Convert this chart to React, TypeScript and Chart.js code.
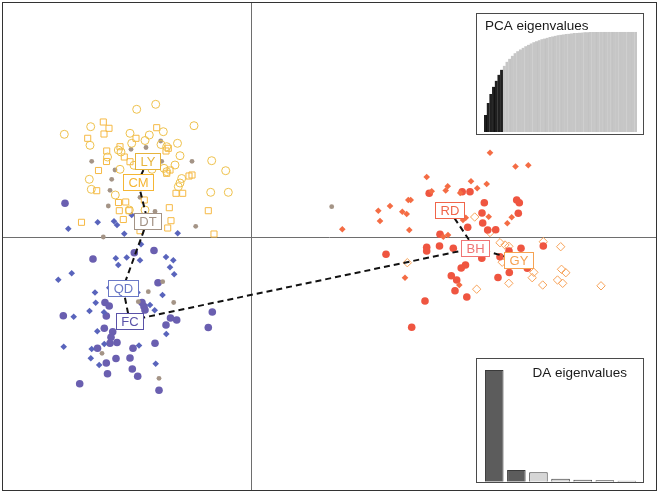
import React, { useEffect, useRef } from 'react';
import { Chart, registerables } from 'chart.js';
Chart.register(...registerables);

// ---- Data (LD1, LD2 scores) ----
const groupNames = ['LY', 'CM', 'DT', 'QD', 'FC', 'RD', 'BH', 'GY'];
const centroidX = [-10.35, -11.3, -10.35, -12.8, -12.15, 19.8, 22.35, 26.75];
const centroidY = [7.6, 5.5, 1.65, -5.1, -8.35, 2.7, -1.1, -2.3];
// minimum spanning tree between group centroids (index pairs)
const mstEdges: [number, number][] = [[0, 1], [1, 2], [2, 3], [3, 4], [4, 6], [6, 5], [6, 7]];

const LY: [number, number][] = [[-11.43,12.77],[-9.53,13.27],[-18.67,10.27],[-16.03,11.03],[-5.70,11.13],[-16.10,9.17],[-12.10,10.37],[-10.17,10.20],[-8.77,10.53],[-10.60,9.65],[-11.93,9.37],[-9.00,9.25],[-13.27,8.70],[-13.00,8.50],[-14.35,8.00],[-8.43,9.03],[-7.35,9.37],[-7.10,8.13],[-3.93,7.63],[-2.53,6.63],[-13.10,6.77],[-11.70,7.17],[-9.90,6.77],[-8.70,6.87],[-7.60,7.20],[-16.17,5.77],[-6.93,5.85],[-7.10,5.40],[-7.27,5.03],[-15.97,4.77],[-13.57,4.20],[-4.03,4.47],[-2.27,4.47],[-12.17,2.70],[-10.60,2.70],[-8.43,6.53]];
const CM: [number, number][] = [[-14.77,11.50],[-14.20,10.87],[-14.70,10.30],[-16.33,9.87],[-9.43,10.93],[-11.50,9.87],[-13.10,9.03],[-8.27,8.87],[-8.50,8.60],[-14.43,8.60],[-12.67,8.00],[-14.45,7.55],[-12.10,7.53],[-15.25,6.65],[-8.10,6.70],[-8.43,6.37],[-6.20,6.10],[-5.90,6.20],[-15.43,4.63],[-13.25,3.45],[-12.53,3.50],[-7.50,4.37],[-6.83,4.37],[-10.67,3.70],[-13.17,2.63],[-12.20,2.63],[-8.17,2.93],[-4.27,2.63],[-16.95,1.47],[-12.77,1.75],[-8.00,1.63],[-8.33,0.90],[-3.70,0.30],[-11.10,0.63]];
const DT: [number, number][] = [[-9.03,9.60],[-12.00,8.77],[-10.50,8.95],[-15.93,7.57],[-13.60,6.70],[-8.93,7.57],[-5.90,7.57],[-13.93,5.77],[-14.10,4.67],[-11.10,3.97],[-14.27,3.10],[-9.60,2.55],[-5.53,1.07],[-14.77,0.00],[-8.83,-4.47],[-10.27,-5.47],[-7.73,-6.55],[-11.27,-6.47],[-14.90,-11.63],[-9.20,-14.13],[8.07,3.03]];
const QD: [number, number][] = [[-18.27,0.82],[-15.33,1.47],[-13.70,1.57],[-13.40,1.20],[-11.93,2.20],[-12.67,0.33],[-7.33,0.37],[-11.00,-0.73],[-13.52,-2.13],[-13.27,-2.80],[-12.43,-2.05],[-11.10,-2.33],[-8.50,-2.00],[-7.77,-2.33],[-8.10,-3.03],[-7.68,-3.72],[-17.93,-3.63],[-19.27,-4.27],[-15.60,-5.55],[-15.53,-6.57],[-16.15,-7.40],[-17.73,-7.97],[-14.70,-7.53],[-11.35,-5.55],[-8.85,-5.80],[-10.10,-6.80],[-9.63,-7.33],[-15.37,-9.43],[-8.47,-9.70],[-11.20,-10.85],[-18.73,-10.97],[-15.93,-11.20],[-14.67,-10.70],[-16.02,-12.13],[-15.18,-12.80],[-9.53,-12.67],[-14.17,-5.07]];
const FC: [number, number][] = [[-18.60,3.37],[-9.70,-1.35],[-15.80,-2.20],[-11.67,-1.57],[-9.30,-4.57],[-14.60,-6.55],[-14.18,-6.90],[-10.90,-6.55],[-10.70,-6.95],[-10.60,-7.30],[-18.77,-7.87],[-14.47,-7.90],[-8.05,-8.10],[-7.43,-8.30],[-8.50,-8.80],[-3.87,-7.50],[-4.27,-9.05],[-14.67,-9.13],[-13.83,-9.47],[-14.00,-10.03],[-14.10,-10.63],[-13.40,-10.55],[-9.60,-10.63],[-15.35,-11.13],[-11.80,-11.13],[-14.47,-12.60],[-13.50,-12.15],[-12.10,-12.10],[-11.87,-13.20],[-14.35,-13.67],[-11.33,-13.93],[-17.13,-14.67],[-9.20,-15.33]];
const RD: [number, number][] = [[23.90,8.43],[26.45,7.05],[27.73,7.17],[17.57,6.00],[19.67,5.07],[19.47,4.65],[22.00,5.57],[23.57,5.30],[22.62,4.87],[18.07,4.58],[20.92,4.40],[15.73,3.70],[15.97,3.70],[13.90,3.10],[12.73,2.63],[15.13,2.53],[15.57,2.30],[12.90,1.60],[9.13,0.77],[15.83,0.70],[21.48,1.93],[21.20,1.70],[23.77,2.03],[26.07,1.97],[25.63,1.37],[19.70,0.20],[19.23,0.03],[15.40,-4.07],[20.83,-4.80]];
const BH: [number, number][] = [[17.82,4.37],[21.12,4.53],[21.90,4.53],[23.33,3.43],[23.10,2.40],[26.57,3.70],[26.83,3.43],[26.73,2.37],[23.17,1.40],[21.67,0.97],[23.67,0.70],[24.47,0.73],[18.90,0.27],[18.85,-0.90],[17.57,-1.03],[17.57,-1.40],[20.23,-1.13],[13.50,-1.73],[23.08,-2.13],[24.90,-1.97],[21.45,-2.80],[21.02,-3.10],[25.83,-3.55],[24.70,-4.05],[20.03,-3.88],[20.57,-4.30],[20.40,-5.37],[21.58,-6.00],[17.40,-6.40],[16.07,-9.03],[27.00,-1.13],[29.23,-0.90],[25.80,-1.40],[27.63,-3.13]];
const GY: [number, number][] = [[22.37,2.00],[23.90,0.45],[24.90,-0.57],[25.40,-0.80],[25.78,-0.93],[29.23,-0.47],[30.97,-0.97],[25.12,-2.52],[28.28,-3.53],[28.12,-4.07],[31.05,-3.23],[31.48,-3.57],[30.65,-4.30],[31.17,-4.63],[29.17,-4.80],[25.78,-4.63],[22.57,-5.22],[35.00,-4.88],[15.63,-2.57]];

// PCA inset: cumulative variance (%) of PCA axes; first ones retained
const pcaCumVar = [17, 29, 38, 45, 51, 57, 62, 66, 70, 73, 76, 78.5, 80.5, 82.3, 84, 85.5, 87, 88.3, 89.5, 90.5, 91.5, 92.4, 93.2, 94, 94.7, 95.3, 95.9, 96.4, 96.9, 97.3, 97.7, 98, 98.3, 98.6, 98.8, 99, 99.2, 99.35, 99.5, 99.6, 99.7, 99.75, 99.8, 99.85, 99.9, 99.92, 99.94, 99.95, 99.96, 99.97, 99.98, 99.99, 100, 100, 100, 100, 100];
const pcaRetained = 7;
// DA inset: discriminant eigenvalues
const daEigen = [1000, 105, 84, 27, 18, 12, 9];
const daShown = 2;

// ---- Styles ----
const FONT = '"Liberation Sans", Arial, sans-serif';
const labelColors = ['#E6B43C', '#F5B634', '#A39386', '#6A78C6', '#5A52A8', '#F0654A', '#F07474', '#F6A252'];

const lx = [-24.9, 40.6];
const ly = [-25.4, 23.5];

const toXY = (arr: [number, number][]) => arr.map(([x, y]) => ({ x, y }));

const axesPlugin = {
  id: 'axesFrame',
  beforeDatasetsDraw(chart: any) {
    const { ctx, chartArea: a, scales } = chart;
    const x0 = Math.round(scales.x.getPixelForValue(0)) + 0.5;
    const y0 = Math.round(scales.y.getPixelForValue(0)) + 0.5;
    ctx.save();
    ctx.strokeStyle = '#6e6e6e';
    ctx.lineWidth = 1;
    ctx.beginPath();
    ctx.moveTo(x0, a.top); ctx.lineTo(x0, a.bottom);
    ctx.moveTo(a.left, y0); ctx.lineTo(a.right, y0);
    ctx.stroke();
    ctx.strokeStyle = '#333';
    ctx.strokeRect(a.left + 0.5, a.top + 0.5, a.right - a.left - 1, a.bottom - a.top - 1);
    ctx.restore();
  },
};

const labelPlugin = {
  id: 'groupLabels',
  afterDatasetsDraw(chart: any) {
    const { ctx, scales } = chart;
    ctx.save();
    ctx.font = '13px ' + FONT;
    ctx.textAlign = 'center';
    ctx.textBaseline = 'middle';
    groupNames.forEach((g, i) => {
      const px = scales.x.getPixelForValue(centroidX[i]);
      const py = scales.y.getPixelForValue(centroidY[i]);
      const w = Math.round(ctx.measureText(g).width + 10);
      const h = 16;
      const l = Math.round(px - w / 2);
      const t = Math.round(py - h / 2);
      ctx.fillStyle = '#fff';
      ctx.fillRect(l, t, w, h);
      ctx.strokeStyle = labelColors[i];
      ctx.lineWidth = 1;
      ctx.strokeRect(l + 0.5, t + 0.5, w, h);
      ctx.fillStyle = labelColors[i];
      ctx.fillText(g, l + w / 2 + 0.5, t + h / 2 + 1.5);
    });
    ctx.restore();
  },
};

function insetPlugin(title: string, align: 'left' | 'right', tx: number, ty: number) {
  return {
    id: 'insetFrame',
    beforeDraw(chart: any) {
      const { ctx, width, height } = chart;
      ctx.save();
      ctx.fillStyle = '#fff';
      ctx.fillRect(0, 0, width, height);
      ctx.restore();
    },
    afterDraw(chart: any) {
      const { ctx, width, height } = chart;
      ctx.save();
      ctx.strokeStyle = '#4a4a4a';
      ctx.lineWidth = 1;
      ctx.strokeRect(0.5, 0.5, width - 1, height - 1);
      ctx.fillStyle = '#1a1a1a';
      ctx.font = '13.5px ' + FONT;
      ctx.textAlign = align;
      ctx.textBaseline = 'alphabetic';
      ctx.fillText(title, tx, ty);
      ctx.restore();
    },
  };
}

export default function App() {
  const mainRef = useRef<HTMLCanvasElement>(null);
  const pcaRef = useRef<HTMLCanvasElement>(null);
  const daRef = useRef<HTMLCanvasElement>(null);

  useEffect(() => {
    const pointSets = [
      { label: 'LY', data: toXY(LY), pointStyle: 'circle', pointRadius: 4, backgroundColor: 'rgba(0,0,0,0)', borderColor: '#EEC14C', pointBorderWidth: 1 },
      { label: 'CM', data: toXY(CM), pointStyle: 'rect', pointRadius: 4.3, backgroundColor: 'rgba(0,0,0,0)', borderColor: '#F6B944', pointBorderWidth: 1 },
      { label: 'DT', data: toXY(DT), pointStyle: 'circle', pointRadius: 2.4, backgroundColor: '#A49486', borderColor: '#A49486', pointBorderWidth: 0 },
      { label: 'QD', data: toXY(QD), pointStyle: 'rectRot', pointRadius: 3.3, backgroundColor: '#5964BC', borderColor: '#5964BC', pointBorderWidth: 0 },
      { label: 'FC', data: toXY(FC), pointStyle: 'circle', pointRadius: 3.8, backgroundColor: '#6A5FB0', borderColor: '#6A5FB0', pointBorderWidth: 0 },
      { label: 'RD', data: toXY(RD), pointStyle: 'rectRot', pointRadius: 3.3, backgroundColor: '#F46C44', borderColor: '#F46C44', pointBorderWidth: 0 },
      { label: 'BH', data: toXY(BH), pointStyle: 'circle', pointRadius: 3.8, backgroundColor: '#EF5540', borderColor: '#EF5540', pointBorderWidth: 0 },
      { label: 'GY', data: toXY(GY), pointStyle: 'rectRot', pointRadius: 4.2, backgroundColor: 'rgba(0,0,0,0)', borderColor: '#F7A258', pointBorderWidth: 1 },
    ].map((d) => ({ ...d, showLine: false, order: 1 }));

    const edgeSets = mstEdges.map(([a, b]) => ({
      label: 'mst',
      data: [{ x: centroidX[a], y: centroidY[a] }, { x: centroidX[b], y: centroidY[b] }],
      showLine: true,
      borderColor: '#111',
      borderWidth: 2,
      borderDash: [6, 4],
      pointRadius: 0,
      order: 0,
    }));

    const main = new Chart(mainRef.current!, {
      type: 'scatter',
      data: { datasets: [...edgeSets, ...pointSets] as any },
      options: {
        responsive: false,
        animation: false,
        devicePixelRatio: 1,
        events: [],
        layout: { autoPadding: false, padding: { left: 2, top: 2, right: 3, bottom: 6 } },
        scales: {
          x: { type: 'linear', display: false, min: lx[0], max: lx[1] },
          y: { type: 'linear', display: false, min: ly[0], max: ly[1] },
        },
        plugins: { legend: { display: false }, tooltip: { enabled: false } },
      },
      plugins: [axesPlugin, labelPlugin],
    });

    const pca = new Chart(pcaRef.current!, {
      type: 'bar',
      data: {
        labels: pcaCumVar.map((_, i) => String(i + 1)),
        datasets: [{
          data: pcaCumVar,
          backgroundColor: pcaCumVar.map((_, i) => (i < pcaRetained ? '#1f1f1f' : '#c6c6c6')),
          borderColor: pcaCumVar.map((_, i) => (i < pcaRetained ? '#000' : '#bdbdbd')),
          borderWidth: { left: 0, right: 0.5, top: 0, bottom: 0 },
          barPercentage: 1,
          categoryPercentage: 1,
        }],
      },
      options: {
        responsive: false,
        animation: false,
        devicePixelRatio: 1,
        events: [],
        layout: { autoPadding: false, padding: { left: 8, right: 7, top: 18.7, bottom: 3 } },
        scales: { x: { display: false }, y: { display: false, min: 0, max: 100 } },
        plugins: { legend: { display: false }, tooltip: { enabled: false } },
      },
      plugins: [insetPlugin('PCA eigenvalues', 'left', 9, 17)],
    });

    const da = new Chart(daRef.current!, {
      type: 'bar',
      data: {
        labels: daEigen.map((_, i) => String(i + 1)),
        datasets: [{
          data: daEigen,
          backgroundColor: daEigen.map((_, i) => (i < daShown ? '#5c5c5c' : '#d6d6d6')),
          borderColor: '#3a3a3a',
          borderWidth: 1,
          barPercentage: 0.84,
          categoryPercentage: 1,
        }],
      },
      options: {
        responsive: false,
        animation: false,
        devicePixelRatio: 1,
        events: [],
        layout: { autoPadding: false, padding: { left: 7.2, right: 6.1, top: 2, bottom: 1.3 } },
        scales: { x: { display: false }, y: { display: false, min: 0, max: 1090 } },
        plugins: { legend: { display: false }, tooltip: { enabled: false } },
      },
      plugins: [insetPlugin('DA eigenvalues', 'right', 151, 18.7)],
    });

    return () => {
      main.destroy();
      pca.destroy();
      da.destroy();
    };
  }, []);

  return (
    <div style={{ position: 'fixed', left: 0, top: 0, width: 660, height: 497, background: '#fff' }}>
      <canvas ref={mainRef} width={660} height={497} style={{ position: 'absolute', left: 0, top: 0, width: 660, height: 497 }} />
      <canvas ref={pcaRef} width={168} height={122} style={{ position: 'absolute', left: 476, top: 13, width: 168, height: 122 }} />
      <canvas ref={daRef} width={168} height={125} style={{ position: 'absolute', left: 476, top: 358, width: 168, height: 125 }} />
    </div>
  );
}
